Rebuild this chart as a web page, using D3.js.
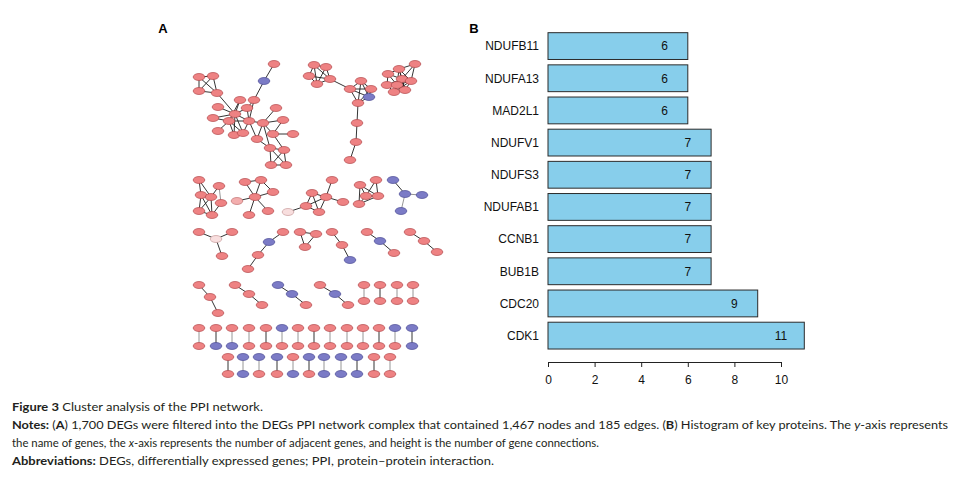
<!DOCTYPE html>
<html>
<head>
<meta charset="utf-8">
<script src="https://cdn.jsdelivr.net/npm/d3@7"></script>
<style>
  body { margin: 0; background: #fff; }
  svg { display: block; }
</style>
</head>
<body>
<svg id="figure"></svg>
<script>
// ---- panel B data ----
const genes = ["NDUFB11", "NDUFA13", "MAD2L1", "NDUFV1", "NDUFS3", "NDUFAB1", "CCNB1", "BUB1B", "CDC20", "CDK1"];
const degrees = [6, 6, 6, 7, 7, 7, 7, 7, 9, 11];
const xTicks = [0, 2, 4, 6, 8, 10];

// ---- panel A data (layout units; u = up, d = down, l = light, w = pale) ----
const nodes = [
  ["a1", 94, 24, "u"], ["a2", 84, 41, "d"], ["a3", 19, 37, "u"], ["a4", 33, 36, "u"], ["a5", 19, 51, "u"],
  ["a6", 37, 53, "u"], ["a7", 60, 60, "u"], ["a8", 74, 60, "u"], ["a9", 38, 67, "u"], ["a10", 67, 68, "u"],
  ["a11", 96, 68, "u"], ["a12", 33, 78, "u"], ["a13", 55, 74, "u"], ["a14", 49, 81, "u"], ["a15", 69, 81, "u"],
  ["a16", 83, 83, "u"], ["a17", 103, 80, "u"], ["a18", 38, 91, "u"], ["a19", 54, 95, "u"], ["a20", 63, 93, "u"],
  ["a21", 77, 99, "u"], ["a22", 93, 94, "u"], ["a23", 113, 94, "u"], ["a24", 90, 108, "u"], ["a25", 104, 110, "u"],
  ["a26", 91, 125, "u"], ["a27", 106, 125, "u"],
  ["b1", 134, 25, "u"], ["b2", 146, 27, "u"], ["b3", 129, 36, "u"], ["b4", 137, 44, "u"], ["b5", 150, 39, "u"],
  ["b6", 181, 41, "u"], ["b7", 170, 49, "u"], ["b8", 191, 49, "u"], ["b9", 189, 57, "d"], ["b10", 178, 63, "u"],
  ["b11", 177, 83, "u"], ["b12", 176, 102, "u"], ["b13", 170, 120, "u"],
  ["c1", 235, 24, "u"], ["c2", 219, 29, "u"], ["c3", 208, 34, "u"], ["c4", 222, 39, "u"], ["c5", 231, 41, "u"],
  ["c6", 207, 45, "u"], ["c7", 217, 45, "u"], ["c8", 214, 52, "u"], ["c9", 225, 50, "u"],
  ["d1", 19, 140, "u"], ["d2", 39, 146, "u"], ["d3", 21, 155, "u"], ["d4", 31, 157, "u"], ["d5", 41, 163, "u"],
  ["d6", 19, 171, "u"], ["d7", 32, 175, "u"],
  ["e1", 65, 142, "u"], ["e2", 81, 140, "u"], ["e3", 93, 152, "u"], ["e4", 75, 157, "u"], ["e5", 57, 161, "l"],
  ["e6", 69, 175, "u"], ["e7", 88, 171, "u"],
  ["f1", 152, 140, "u"], ["f2", 132, 153, "u"], ["f3", 146, 157, "u"], ["f4", 163, 162, "u"], ["f5", 126, 166, "u"],
  ["f6", 139, 172, "u"], ["f7", 108, 172, "w"],
  ["g1", 180, 145, "u"], ["g2", 196, 140, "u"], ["g3", 186, 156, "u"], ["g4", 198, 156, "u"], ["g5", 179, 164, "u"],
  ["h1", 213, 140, "d"], ["h2", 225, 154, "d"], ["h3", 242, 155, "d"], ["h4", 221, 171, "d"],
  ["i1", 19, 192, "u"], ["i2", 52, 192, "u"], ["i3", 36, 199, "w"], ["i4", 42, 216, "u"],
  ["j1", 103, 192, "u"], ["j2", 89, 202, "d"], ["j3", 78, 215, "u"], ["j4", 68, 229, "u"],
  ["k1", 120, 192, "u"], ["k2", 136, 194, "u"], ["k3", 125, 207, "u"],
  ["l1", 152, 192, "u"], ["l2", 162, 205, "u"], ["l3", 170, 220, "d"],
  ["m1", 187, 192, "u"], ["m2", 200, 201, "d"], ["m3", 214, 213, "u"],
  ["n1", 230, 192, "u"], ["n2", 244, 201, "u"], ["n3", 257, 212, "u"],
  ["o1", 19, 245, "u"], ["o2", 30, 257, "u"], ["o3", 38, 273, "u"],
  ["p1", 55, 245, "u"], ["p2", 69, 254, "u"], ["p3", 82, 265, "u"],
  ["q1", 98, 245, "d"], ["q2", 112, 254, "d"], ["q3", 126, 265, "u"],
  ["r1", 140, 245, "u"], ["r2", 155, 254, "d"], ["r3", 168, 265, "u"]
];

const links = [
  ["a1", "a2"], ["a2", "a8"], ["a3", "a4"], ["a3", "a5"], ["a4", "a5"], ["a4", "a6"], ["a5", "a6"], ["a3", "a6"],
  ["a6", "a13"], ["a13", "a14"], ["a13", "a7"], ["a13", "a10"], ["a13", "a9"], ["a13", "a12"], ["a13", "a15"],
  ["a13", "a19"], ["a14", "a12"], ["a14", "a18"], ["a14", "a19"], ["a14", "a15"], ["a14", "a20"], ["a15", "a10"],
  ["a15", "a16"], ["a15", "a20"], ["a15", "a21"], ["a16", "a11"], ["a16", "a17"], ["a16", "a22"], ["a16", "a21"],
  ["a16", "a24"], ["a22", "a23"], ["a22", "a17"], ["a22", "a25"], ["a24", "a25"], ["a24", "a26"], ["a25", "a26"],
  ["a25", "a27"], ["a24", "a27"], ["a26", "a27"], ["a8", "a15"], ["a10", "a8"], ["a7", "a14"], ["a21", "a24"], ["a13", "a20"],
  ["b1", "b2"], ["b1", "b3"], ["b1", "b4"], ["b1", "b5"], ["b2", "b5"], ["b2", "b4"], ["b3", "b4"], ["b3", "b5"],
  ["b4", "b5"], ["b5", "b7"], ["b6", "b7"], ["b6", "b8"], ["b6", "b10"], ["b6", "b9"], ["b7", "b8"], ["b7", "b10"],
  ["b7", "b9"], ["b8", "b10"], ["b8", "b9"], ["b9", "b10"], ["b10", "b11"], ["b11", "b12"], ["b12", "b13"],
  ["c1", "c2"], ["c1", "c4"], ["c1", "c5"], ["c2", "c3"], ["c2", "c4"], ["c2", "c5"], ["c2", "c7"], ["c3", "c4"],
  ["c3", "c6"], ["c3", "c7"], ["c4", "c5"], ["c4", "c6"], ["c4", "c7"], ["c4", "c8"], ["c4", "c9"], ["c5", "c9"],
  ["c5", "c7"], ["c6", "c7"], ["c6", "c8"], ["c7", "c8"], ["c7", "c9"], ["c8", "c9"], ["c2", "c9"], ["c5", "c8"],
  ["d1", "d3"], ["d2", "d4"], ["d2", "d5", "g"], ["d3", "d4"], ["d3", "d6"], ["d3", "d7"], ["d4", "d6"], ["d4", "d7"],
  ["d5", "d7"], ["d6", "d7"], ["d1", "d4"],
  ["e1", "e4"], ["e2", "e4"], ["e2", "e3"], ["e3", "e4"], ["e5", "e4"], ["e6", "e4"], ["e7", "e4"], ["e1", "e2"],
  ["f1", "f3"], ["f2", "f3"], ["f2", "f5"], ["f2", "f6"], ["f3", "f4"], ["f3", "f5"], ["f3", "f6"], ["f5", "f6"], ["f7", "f5"],
  ["g1", "g3"], ["g1", "g5"], ["g2", "g3"], ["g2", "g4"], ["g3", "g4"], ["g3", "g5"], ["g4", "g5"], ["g1", "g4"],
  ["h1", "h2"], ["h2", "h3", "g"], ["h2", "h4", "g"],
  ["i1", "i3"], ["i2", "i3"], ["i3", "i4"],
  ["j1", "j2"], ["j2", "j3"], ["j3", "j4"],
  ["k1", "k2"], ["k2", "k3"], ["k1", "k3"],
  ["l1", "l2"], ["l2", "l3"], ["m1", "m2"], ["m2", "m3"], ["n1", "n2"], ["n2", "n3"],
  ["o1", "o2"], ["o2", "o3"], ["p1", "p2"], ["p2", "p3"], ["q1", "q2"], ["q2", "q3"], ["r1", "r2"], ["r2", "r3"]
];

// two-node components: [x, top type, bottom type, edge shade]
const pairRowY = [[245, 261], [288, 306], [317, 334]];
const pairRows = [
  [[184, "u", "u", "g"], [200, "u", "u", "k"], [217, "u", "u", "g"], [233, "u", "u", "g"]],
  [[19, "u", "u", "g"], [36, "u", "d", "k"], [52, "u", "d", "g"], [69, "u", "u", "g"], [86, "u", "u", "k"],
   [102, "d", "u", "g"], [118, "u", "u", "g"], [134, "u", "u", "k"], [150, "u", "u", "g"], [167, "u", "u", "g"],
   [183, "u", "u", "g"], [199, "u", "u", "k"], [215, "d", "u", "g"], [232, "d", "d", "k"]],
  [[48, "u", "u", "k"], [63, "d", "d", "g"], [79, "d", "u", "g"], [97, "d", "u", "k"], [113, "u", "d", "g"],
   [129, "d", "u", "k"], [144, "d", "d", "g"], [161, "d", "d", "g"], [177, "d", "d", "k"], [194, "u", "u", "k"],
   [210, "u", "u", "g"]]
];

const fills = { u: "#ee8283", d: "#7b7bc6", l: "#f3aeae", w: "#f8dede" };
const strokes = { u: "#b2474b", d: "#4b4b93", l: "#c07070", w: "#c79a9a" };
const sansFont = "Arial, 'Liberation Sans', Helvetica, sans-serif";

const width = 956;
const height = 477;

const svg = d3.select("#figure")
  .attr("width", width)
  .attr("height", height)
  .attr("font-family", sansFont);

svg.append("rect").attr("width", width).attr("height", height).attr("fill", "#fff");

// ---------- panel A : network ----------
const nx = d3.scaleLinear().domain([0, 280]).range([180, 460]);
const ny = d3.scaleLinear().domain([0, 350]).range([40, 390]);

const allNodes = nodes.map(n => ({ id: n[0], x: n[1], y: n[2], t: n[3] }));
const allLinks = links.map(l => ({ s: l[0], e: l[1], shade: l[2] || "k" }));
pairRows.forEach((row, r) => {
  row.forEach((p, i) => {
    const top = `p${r}_${i}a`, bot = `p${r}_${i}b`;
    allNodes.push({ id: top, x: p[0], y: pairRowY[r][0], t: p[1] });
    allNodes.push({ id: bot, x: p[0], y: pairRowY[r][1], t: p[2] });
    allLinks.push({ s: top, e: bot, shade: p[3] });
  });
});
const byId = new Map(allNodes.map(n => [n.id, n]));

const net = svg.append("g").attr("id", "network");

net.selectAll("line")
  .data(allLinks)
  .enter()
  .append("line")
  .attr("x1", d => nx(byId.get(d.s).x))
  .attr("y1", d => ny(byId.get(d.s).y))
  .attr("x2", d => nx(byId.get(d.e).x))
  .attr("y2", d => ny(byId.get(d.e).y))
  .attr("stroke", d => d.shade === "g" ? "#8a8a8a" : "#1e1e1e")
  .attr("stroke-width", 0.9);

net.selectAll("ellipse")
  .data(allNodes)
  .enter()
  .append("ellipse")
  .attr("cx", d => nx(d.x))
  .attr("cy", d => ny(d.y))
  .attr("rx", 5.8)
  .attr("ry", 3.5)
  .attr("fill", d => fills[d.t])
  .attr("stroke", d => strokes[d.t])
  .attr("stroke-width", 0.7);

svg.append("text")
  .attr("x", 163).attr("y", 33)
  .attr("font-weight", "bold").attr("font-size", 13)
  .attr("text-anchor", "middle")
  .text("A");

// ---------- panel B : bar chart ----------
const xScale = d3.scaleLinear().domain([0, 10]).range([548, 781]);
const yScale = d3.scaleBand()
  .domain(genes)
  .range([30, 351.7])
  .paddingInner(0.1667)
  .paddingOuter(0.0833);

const bars = svg.append("g").attr("id", "bars");

bars.selectAll("rect")
  .data(genes)
  .enter()
  .append("rect")
  .attr("x", xScale(0))
  .attr("y", d => yScale(d))
  .attr("width", (d, i) => xScale(degrees[i]) - xScale(0))
  .attr("height", yScale.bandwidth())
  .attr("fill", "#87ceeb")
  .attr("stroke", "#2b2b2b")
  .attr("stroke-width", 1);

bars.selectAll(".value")
  .data(genes)
  .enter()
  .append("text")
  .attr("class", "value")
  .attr("x", (d, i) => xScale(degrees[i] - 1))
  .attr("y", d => yScale(d) + yScale.bandwidth() / 2)
  .attr("dy", "0.36em")
  .attr("text-anchor", "middle")
  .attr("font-size", 12)
  .attr("fill", "#111")
  .text((d, i) => degrees[i]);

bars.selectAll(".gene")
  .data(genes)
  .enter()
  .append("text")
  .attr("class", "gene")
  .attr("x", 539)
  .attr("y", d => yScale(d) + yScale.bandwidth() / 2)
  .attr("dy", "0.36em")
  .attr("text-anchor", "end")
  .attr("font-size", 12)
  .attr("fill", "#111")
  .text(d => d);

const xAxis = d3.axisBottom(xScale)
  .tickValues(xTicks)
  .tickSize(5)
  .tickSizeOuter(0)
  .tickPadding(8);

const axisG = svg.append("g")
  .attr("transform", "translate(0, 362)")
  .attr("id", "x-axis")
  .call(xAxis);
axisG.attr("font-family", sansFont);
axisG.select(".domain").attr("stroke", "#222");
axisG.selectAll(".tick line").attr("stroke", "#222");
axisG.selectAll(".tick text")
  .attr("font-size", 12)
  .attr("fill", "#111");

svg.append("text")
  .attr("x", 474).attr("y", 33)
  .attr("font-weight", "bold").attr("font-size", 13)
  .attr("text-anchor", "middle")
  .text("B");

// ---------- caption ----------
const captionLines = [
  { y: 411, w: 251, parts: [["Figure 3", "b"], [" Cluster analysis of the PPI network.", ""]] },
  { y: 429, w: 936, parts: [["Notes:", "b"], [" (", ""], ["A", "b"], [") 1,700 DEGs were filtered into the DEGs PPI network complex that contained 1,467 nodes and 185 edges. (", ""], ["B", "b"], [") Histogram of key proteins. The ", ""], ["y", "i"], ["-axis represents", ""]] },
  { y: 447, w: 587, parts: [["the name of genes, the ", ""], ["x", "i"], ["-axis represents the number of adjacent genes, and height is the number of gene connections.", ""]] },
  { y: 465, w: 482, parts: [["Abbreviations:", "b"], [" DEGs, differentially expressed genes; PPI, protein\u2013protein interaction.", ""]] }
];

const cap = svg.append("g")
  .attr("font-family", "Lato, 'Open Sans', sans-serif")
  .attr("font-size", 11.5)
  .attr("fill", "#231f20");

captionLines.forEach(line => {
  const t = cap.append("text")
    .attr("x", 12)
    .attr("y", line.y)
    .attr("textLength", line.w)
    .attr("lengthAdjust", "spacingAndGlyphs");
  line.parts.forEach(p => {
    t.append("tspan")
      .attr("font-weight", p[1] === "b" ? "bold" : null)
      .attr("font-style", p[1] === "i" ? "italic" : null)
      .text(p[0]);
  });
});
</script>
</body>
</html>
